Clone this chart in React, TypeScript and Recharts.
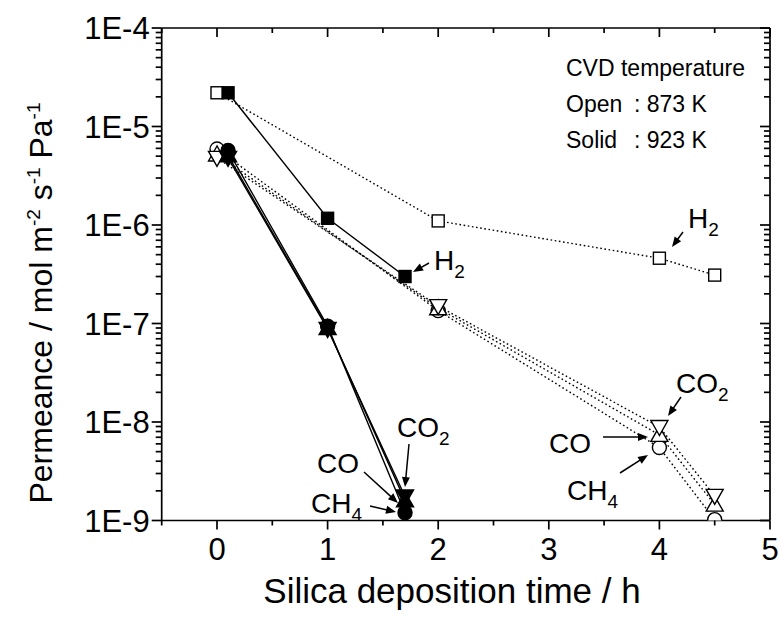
import React from 'react';
import { LineChart, Line, XAxis, YAxis, Customized } from 'recharts';

const FONT = '"Liberation Sans", Arial, Helvetica, sans-serif';

// CVD at 873 K (open symbols, dotted lines)
const openTime = [0, 2, 4, 4.5];
const openH2 = [2.2e-5, 1.1e-6, 4.6e-7, 3.1e-7];
const openCO2 = [4.8e-6, 1.5e-7, 8.9e-9, 1.78e-9];
const openCO = [5.2e-6, 1.43e-7, 7.4e-9, 1.45e-9];
const openCH4 = [5.9e-6, 1.35e-7, 5.5e-9, 1.02e-9];

// CVD at 923 K (solid symbols, solid lines)
const solidTime = [0.1, 1, 1.7];
const solidH2 = [2.2e-5, 1.17e-6, 3.0e-7];
const solidCO2 = [4.8e-6, 8.8e-8, 1.75e-9];
const solidCO = [5.1e-6, 9.0e-8, 1.6e-9];
const solidCH4 = [5.7e-6, 9.4e-8, 1.2e-9];

const xMajorTicks = [0, 1, 2, 3, 4, 5];
const xMinorTicks = [-0.5, 0.5, 1.5, 2.5, 3.5, 4.5];
const yDecades = [1e-9, 1e-8, 1e-7, 1e-6, 1e-5, 1e-4];
const yDecadeLabels = ['1E-9', '1E-8', '1E-7', '1E-6', '1E-5', '1E-4'];

const xTicks = [...xMinorTicks, ...xMajorTicks].sort((a, b) => a - b);
const yTicks: number[] = [];
yDecades.forEach((d, i) => {
  if (i < yDecades.length - 1) {
    for (let m = 1; m <= 9; m++) yTicks.push(m * d);
  } else yTicks.push(d);
});

const toPts = (xs: number[], ys: number[]) => xs.map((x, i) => ({ x, y: ys[i] }));

const isDecade = (v: number) => Math.abs(Math.log10(v) - Math.round(Math.log10(v))) < 1e-6;
const decadeLabel = (v: number) => {
  const i = yDecades.findIndex((d) => Math.abs(Math.log10(d) - Math.log10(v)) < 1e-6);
  return i >= 0 ? yDecadeLabels[i] : '';
};
const isMajorX = (v: number) => xMajorTicks.includes(v);

const SW = 1.7;
const TICK_FONT = 31;

const LeftTick = (p: any) => {
  const { x, y, payload } = p;
  const major = isDecade(payload.value);
  const len = major ? 10 : 6;
  return (
    <g>
      <line x1={x} x2={x - len} y1={y} y2={y} stroke="#000" strokeWidth={SW} />
      {major && (
        <text x={x - 12} y={y + 11} textAnchor="end" fontFamily={FONT} fontSize={TICK_FONT} fill="#000">
          {decadeLabel(payload.value)}
        </text>
      )}
    </g>
  );
};
const RightTick = (p: any) => {
  const { x, y, payload } = p;
  const major = isDecade(payload.value);
  const len = major ? 10 : 6;
  return <line x1={x} x2={x - len} y1={y} y2={y} stroke="#000" strokeWidth={SW} />;
};
const BottomTick = (p: any) => {
  const { x, y, payload } = p;
  const major = isMajorX(payload.value);
  const len = major ? 9 : 5;
  return (
    <g>
      <line x1={x} x2={x} y1={y} y2={y + len} stroke="#000" strokeWidth={SW} />
      {major && (
        <text x={x} y={y + 39} textAnchor="middle" fontFamily={FONT} fontSize={TICK_FONT} fill="#000">
          {payload.value}
        </text>
      )}
    </g>
  );
};
const TopTick = (p: any) => {
  const { x, y, payload } = p;
  const major = isMajorX(payload.value);
  const len = major ? 9 : 5;
  return <line x1={x} x2={x} y1={y} y2={y + len} stroke="#000" strokeWidth={SW} />;
};

type Shape = 'square' | 'circle' | 'up' | 'down';
const Marker = ({ cx, cy, shape, filled }: { cx: number; cy: number; shape: Shape; filled: boolean }) => {
  const fill = filled ? '#000' : '#fff';
  const common = { fill, stroke: '#000', strokeWidth: 1.4 };
  if (shape === 'square') return <rect x={cx - 6} y={cy - 6} width={12} height={12} {...common} />;
  if (shape === 'circle') return <circle cx={cx} cy={cy} r={7} {...common} />;
  if (shape === 'up')
    return <polygon points={`${cx},${cy - 8.5} ${cx - 8.5},${cy + 6.5} ${cx + 8.5},${cy + 6.5}`} {...common} />;
  return <polygon points={`${cx},${cy + 8.5} ${cx - 8.5},${cy - 6.5} ${cx + 8.5},${cy - 6.5}`} {...common} />;
};
const dotFn = (shape: Shape, filled: boolean) => (props: any) => {
  const { cx, cy, index } = props;
  if (cx == null || cy == null) return <g key={`d${index}`} />;
  return <Marker key={`d${index}`} cx={cx} cy={cy} shape={shape} filled={filled} />;
};

const series = [
  { name: 'open-H2', data: toPts(openTime, openH2), shape: 'square' as Shape, filled: false },
  { name: 'open-CH4', data: toPts(openTime, openCH4), shape: 'circle' as Shape, filled: false },
  { name: 'open-CO', data: toPts(openTime, openCO), shape: 'up' as Shape, filled: false },
  { name: 'open-CO2', data: toPts(openTime, openCO2), shape: 'down' as Shape, filled: false },
  { name: 'solid-H2', data: toPts(solidTime, solidH2), shape: 'square' as Shape, filled: true },
  { name: 'solid-CH4', data: toPts(solidTime, solidCH4), shape: 'circle' as Shape, filled: true },
  { name: 'solid-CO', data: toPts(solidTime, solidCO), shape: 'up' as Shape, filled: true },
  { name: 'solid-CO2', data: toPts(solidTime, solidCO2), shape: 'down' as Shape, filled: true },
];

const Arrow = ({ x1, y1, x2, y2 }: { x1: number; y1: number; x2: number; y2: number }) => {
  const dx = x2 - x1;
  const dy = y2 - y1;
  const L = Math.hypot(dx, dy);
  const ux = dx / L;
  const uy = dy / L;
  const hl = 10;
  const hw = 4;
  const bx = x2 - ux * hl;
  const by = y2 - uy * hl;
  return (
    <g>
      <line x1={x1} y1={y1} x2={bx + ux * 2} y2={by + uy * 2} stroke="#000" strokeWidth={1.5} />
      <polygon
        points={`${x2},${y2} ${bx - uy * hw},${by + ux * hw} ${bx + uy * hw},${by - ux * hw}`}
        fill="#000"
      />
    </g>
  );
};

const LBL = 28;
const SUB = 19;
const Gas = ({ x, y, main, sub }: { x: number; y: number; main: string; sub?: string }) => (
  <text x={x} y={y} fontFamily={FONT} fontSize={LBL} fill="#000">
    {main}
    {sub && (
      <tspan dy={8} fontSize={SUB}>
        {sub}
      </tspan>
    )}
  </text>
);

const INFO = 23;
const Annotations = () => (
  <g>
    <text x={566} y={76} fontFamily={FONT} fontSize={INFO} fill="#000">CVD temperature</text>
    <text x={566} y={112} fontFamily={FONT} fontSize={INFO} fill="#000">Open</text>
    <text x={634} y={112} fontFamily={FONT} fontSize={INFO} fill="#000">: 873 K</text>
    <text x={566} y={148} fontFamily={FONT} fontSize={INFO} fill="#000">Solid</text>
    <text x={634} y={148} fontFamily={FONT} fontSize={INFO} fill="#000">: 923 K</text>

    <Gas x={688} y={228} main="H" sub="2" />
    <Arrow x1={683} y1={232} x2={672} y2={247} />

    <Gas x={434} y={270} main="H" sub="2" />
    <Arrow x1={429} y1={263} x2={413} y2={272} />

    <Gas x={397} y={437} main="CO" sub="2" />
    <Arrow x1={409} y1={444} x2={405} y2={487} />
    <Gas x={317} y={473} main="CO" />
    <Arrow x1={364} y1={472} x2={398} y2={503} />
    <Gas x={311} y={513} main="CH" sub="4" />
    <Arrow x1={370} y1={506} x2={396} y2={512} />

    <Gas x={676} y={393} main="CO" sub="2" />
    <Arrow x1={681} y1={397} x2={668} y2={416} />
    <Gas x={549} y={453} main="CO" />
    <Arrow x1={603} y1={437} x2={648} y2={437} />
    <Gas x={567} y={500} main="CH" sub="4" />
    <Arrow x1={620} y1={473} x2={648} y2={455} />

    <text x={452} y={603} textAnchor="middle" fontFamily={FONT} fontSize={35} fill="#000">
      Silica deposition time / h
    </text>
    <text
      x={52}
      y={303}
      transform="rotate(-90, 52, 303)"
      textAnchor="middle"
      fontFamily={FONT}
      fontSize={32}
      fill="#000"
    >
      Permeance / mol m
      <tspan dy={-12} fontSize={19}>-2</tspan>
      <tspan dy={12}> s</tspan>
      <tspan dy={-12} fontSize={19}>-1</tspan>
      <tspan dy={12}> Pa</tspan>
      <tspan dy={-12} fontSize={19}>-1</tspan>
    </text>
  </g>
);

export default function App() {
  return (
    <div style={{ position: 'absolute', left: 0, top: 0, width: 781, height: 625, background: '#fff' }}>
      <LineChart width={781} height={625} margin={{ top: 27, right: 10, bottom: 4.5, left: 11.7 }}>
        <XAxis
          xAxisId="b"
          type="number"
          dataKey="x"
          domain={[-0.5, 5]}
          allowDataOverflow
          ticks={xTicks}
          interval={0}
          height={100}
          tickSize={0}
          tickMargin={0}
          tickLine={false}
          tick={<BottomTick />}
          axisLine={{ stroke: '#000', strokeWidth: SW }}
        />
        <XAxis
          xAxisId="t"
          orientation="top"
          type="number"
          dataKey="x"
          domain={[-0.5, 5]}
          allowDataOverflow
          ticks={xTicks}
          interval={0}
          height={1}
          tickSize={0}
          tickMargin={0}
          tickLine={false}
          tick={<TopTick />}
          axisLine={{ stroke: '#000', strokeWidth: SW }}
        />
        <YAxis
          yAxisId="l"
          type="number"
          scale="log"
          domain={[1e-9, 1e-4]}
          allowDataOverflow
          ticks={yTicks}
          interval={0}
          width={150}
          tickSize={0}
          tickMargin={0}
          tickLine={false}
          tick={<LeftTick />}
          axisLine={{ stroke: '#000', strokeWidth: SW }}
        />
        <YAxis
          yAxisId="r"
          orientation="right"
          type="number"
          scale="log"
          domain={[1e-9, 1e-4]}
          allowDataOverflow
          ticks={yTicks}
          interval={0}
          width={1}
          tickSize={0}
          tickMargin={0}
          tickLine={false}
          tick={<RightTick />}
          axisLine={{ stroke: '#000', strokeWidth: SW }}
        />
        {series.map((s) => (
          <Line
            key={s.name}
            xAxisId="b"
            yAxisId="l"
            data={s.data}
            dataKey="y"
            type="linear"
            stroke="#000"
            strokeWidth={1.4}
            strokeDasharray={s.filled ? undefined : '1.6 2.6'}
            dot={dotFn(s.shape, s.filled)}
            activeDot={false}
            isAnimationActive={false}
          />
        ))}
        <Customized component={Annotations} />
      </LineChart>
    </div>
  );
}
